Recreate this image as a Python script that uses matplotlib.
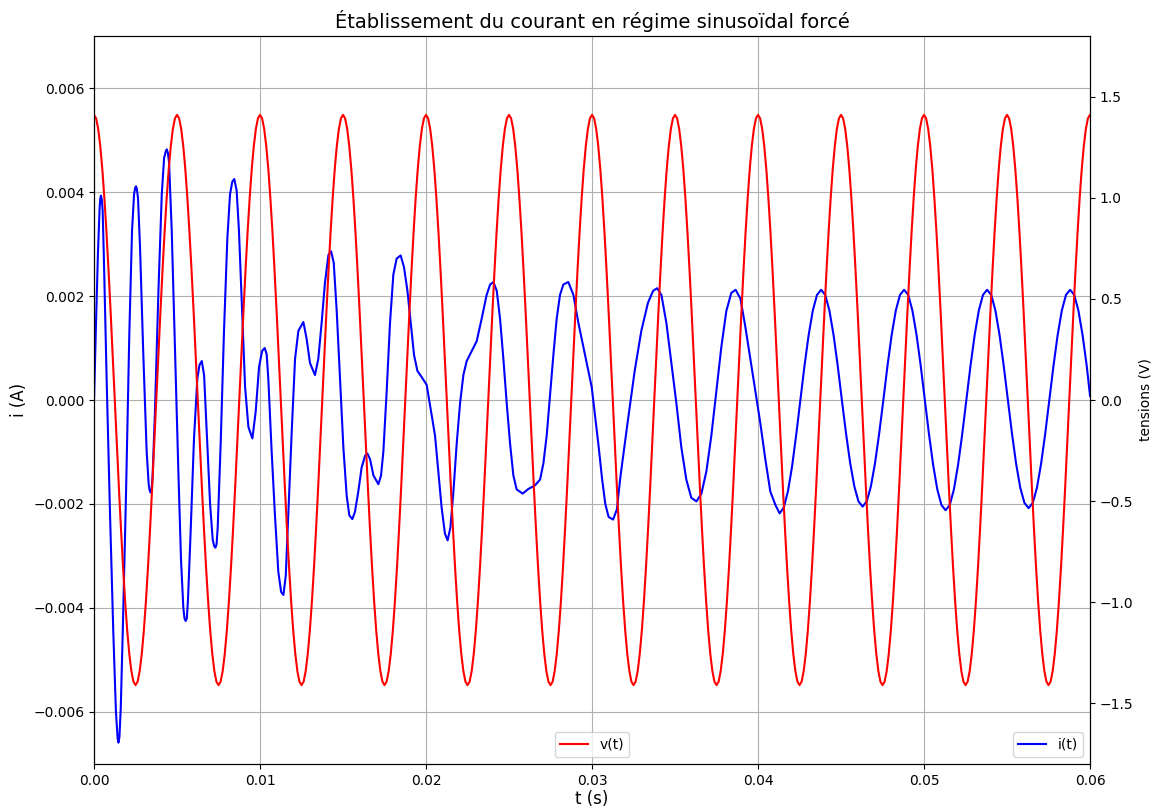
import numpy as np
import matplotlib
matplotlib.use("Agg")
import matplotlib.pyplot as plt

# ---- data ----
# voltage v(t): one period (0.005 s) sampled every 0.000125 s, repeated over the window
V_PERIOD_S = 0.005
V_CYCLE = [1.410, 1.393, 1.341, 1.256, 1.141, 0.997, 0.829, 0.640, 0.436, 0.221,
           0.000, -0.221, -0.436, -0.640, -0.829, -0.997, -1.141, -1.256, -1.341, -1.393,
           -1.410, -1.393, -1.341, -1.256, -1.141, -0.997, -0.829, -0.640, -0.436, -0.221,
           0.000, 0.221, 0.436, 0.640, 0.829, 0.997, 1.141, 1.256, 1.341, 1.393]
N_PERIODS = 12

# current i(t): transient part (t in s, i in A)
TRANS_T = [0.0, 0.00012, 0.00024, 0.00034, 0.00038, 0.00042, 0.00047, 0.00052, 0.00060, 0.00076,
           0.00096, 0.00116, 0.00132, 0.00142, 0.00147, 0.00153, 0.00161, 0.00173, 0.00193, 0.00213,
           0.00229, 0.00241, 0.00248, 0.00253, 0.00258, 0.00265, 0.00277, 0.00297, 0.00317, 0.00329,
           0.00335, 0.00341, 0.00347, 0.00353, 0.00367, 0.00388, 0.00408, 0.00422, 0.00431, 0.00438,
           0.00445, 0.00452, 0.00468, 0.00488, 0.00508, 0.00524, 0.00538, 0.00545, 0.00552, 0.00559,
           0.00566, 0.00582, 0.00602, 0.00622, 0.00635, 0.00649, 0.00663, 0.00679, 0.00699, 0.00715,
           0.00724, 0.00731, 0.00738, 0.00745, 0.00763, 0.00783, 0.00803, 0.00819, 0.00833, 0.00845,
           0.00859, 0.00873, 0.00890, 0.00910, 0.00930, 0.00954, 0.00974, 0.00994, 0.01012, 0.01028,
           0.01040, 0.01050, 0.01070, 0.01090, 0.01110, 0.01127, 0.01141, 0.01155, 0.01171, 0.01191,
           0.01211, 0.01231, 0.01261, 0.01281, 0.01301, 0.01331, 0.01351, 0.01371, 0.01391, 0.01412,
           0.01428, 0.01444, 0.01462, 0.01482, 0.01502, 0.01522, 0.01538, 0.01556, 0.01572, 0.01592,
           0.01612, 0.01633, 0.01647, 0.01663, 0.01683, 0.01713, 0.01729, 0.01743, 0.01763, 0.01783,
           0.01803, 0.01823, 0.01847, 0.01867, 0.01888, 0.01908, 0.01928, 0.01948, 0.01974, 0.02004,
           0.02030, 0.02054, 0.02074, 0.02094, 0.02114, 0.02130, 0.02147, 0.02165, 0.02185, 0.02205,
           0.02225, 0.02245, 0.02275, 0.02305, 0.02335, 0.02365, 0.02386, 0.02406, 0.02426, 0.02446,
           0.02466, 0.02486, 0.02506, 0.02526, 0.02546, 0.02582, 0.02617, 0.02657, 0.02687, 0.02707,
           0.02727, 0.02747, 0.02767, 0.02787, 0.02807, 0.02827, 0.02857, 0.02888, 0.02918, 0.02958,
           0.02998, 0.03040, 0.03060, 0.03080, 0.03100, 0.03127, 0.03150, 0.03170, 0.03217, 0.03257,
           0.03297, 0.03337, 0.03368, 0.03392, 0.03418, 0.03448, 0.03478, 0.03508, 0.03538, 0.03568,
           0.03598, 0.03629, 0.03659, 0.03689, 0.03719, 0.03749, 0.03779, 0.03809, 0.03839, 0.03865,
           0.03894, 0.03924, 0.03954, 0.03984, 0.04014, 0.04044, 0.04074]
TRANS_I = [0.0, 0.00148, 0.00287, 0.00372, 0.00388, 0.00393, 0.00385, 0.00364, 0.00264, 0.00040,
           -0.00215, -0.00446, -0.00600, -0.00650, -0.00659, -0.00648, -0.00593, -0.00446, -0.00176, 0.00133,
           0.00326, 0.00395, 0.00408, 0.00411, 0.00406, 0.00388, 0.00295, 0.00086, -0.00099, -0.00161,
           -0.00174, -0.00178, -0.00172, -0.00145, -0.00022, 0.00210, 0.00395, 0.00465, 0.00477, 0.00482,
           0.00475, 0.00457, 0.00326, 0.00094, -0.00137, -0.00307, -0.00400, -0.00420, -0.00425, -0.00420,
           -0.00384, -0.00253, -0.00076, 0.00040, 0.00067, 0.00075, 0.00048, -0.00060, -0.00199, -0.00269,
           -0.00281, -0.00284, -0.00278, -0.00245, -0.00083, 0.00133, 0.00310, 0.00395, 0.00420, 0.00425,
           0.00403, 0.00326, 0.00187, 0.00025, -0.00052, -0.00074, -0.00022, 0.00063, 0.00094, 0.00100,
           0.00088, 0.00040, -0.00099, -0.00222, -0.00330, -0.00369, -0.00375, -0.00338, -0.00215, -0.00060,
           0.00079, 0.00133, 0.00150, 0.00117, 0.00071, 0.00048, 0.00079, 0.00148, 0.00225, 0.00279,
           0.00286, 0.00264, 0.00171, 0.00040, -0.00091, -0.00184, -0.00222, -0.00229, -0.00215, -0.00176,
           -0.00130, -0.00107, -0.00103, -0.00114, -0.00145, -0.00162, -0.00145, -0.00099, 0.00017, 0.00148,
           0.00241, 0.00272, 0.00278, 0.00256, 0.00210, 0.00148, 0.00086, 0.00056, 0.00044, 0.00029,
           -0.00022, -0.00068, -0.00137, -0.00207, -0.00257, -0.00270, -0.00245, -0.00176, -0.00083, -0.00006,
           0.00048, 0.00075, 0.00094, 0.00113, 0.00156, 0.00202, 0.00222, 0.00227, 0.00210, 0.00156,
           0.00079, -0.00006, -0.00083, -0.00145, -0.00172, -0.00180, -0.00171, -0.00164, -0.00153, -0.00122,
           -0.00068, 0.00009, 0.00086, 0.00156, 0.00202, 0.00222, 0.00227, 0.00202, 0.00148, 0.00086,
           0.00025, -0.00090, -0.00150, -0.00200, -0.00225, -0.00230, -0.00210, -0.00150, -0.00037, 0.00056,
           0.00133, 0.00187, 0.00210, 0.00215, 0.00202, 0.00148, 0.00071, -0.00006, -0.00091, -0.00153,
           -0.00188, -0.00195, -0.00180, -0.00137, -0.00068, 0.00017, 0.00102, 0.00171, 0.00206, 0.00212,
           0.00195, 0.00140, 0.00079, 0.00017, -0.00045, -0.00114, -0.00176]

# current i(t): steady-state part, sampled every 0.00025 s from 0.04105 s
STEADY_T0 = 0.04105
STEADY_DT = 0.00025
STEADY_I = [-0.00202,
            -0.00218, -0.00207, -0.00176, -0.00128, -0.00067, 0.0, 0.00066, 0.00125, 0.00172, 0.00202,
            0.00212, 0.00202, 0.00172, 0.00125, 0.00066, 0.0, -0.00064, -0.00121, -0.00166, -0.00195,
            -0.00205, -0.00195, -0.00166, -0.00121, -0.00064, 0.0, 0.00066, 0.00125, 0.00172, 0.00202,
            0.00212, 0.00202, 0.00172, 0.00125, 0.00066, 0.0, -0.00066, -0.00125, -0.00172, -0.00202,
            -0.00212, -0.00202, -0.00172, -0.00125, -0.00066, 0.0, 0.00066, 0.00125, 0.00172, 0.00202,
            0.00212, 0.00202, 0.00172, 0.00125, 0.00066, 0.0, -0.00065, -0.00123, -0.00169, -0.00198,
            -0.00208, -0.00198, -0.00169, -0.00123, -0.00065, 0.0, 0.00066, 0.00125, 0.00172, 0.00202,
            0.00212, 0.00202, 0.00172, 0.00125, 0.00066]
END_T = [0.06]
END_I = [0.00008]

TITLE = "Établissement du courant en régime sinusoïdal forcé"

# ---- build series ----
v_vals = np.concatenate([np.tile(V_CYCLE, N_PERIODS), [V_CYCLE[0]]])
v_t = np.linspace(0, N_PERIODS * V_PERIOD_S, len(v_vals))

steady_t = STEADY_T0 + STEADY_DT * np.arange(len(STEADY_I))
i_t = np.concatenate([TRANS_T, steady_t, END_T])
i_vals = np.concatenate([TRANS_I, STEADY_I, END_I])

# ---- figure ----
fig = plt.figure(figsize=(11.58, 8.08), dpi=100)
ax1 = fig.add_axes([0.0812, 0.0545, 0.8601, 0.9009])
ax1.plot(i_t, i_vals, color="blue", lw=1.5, label="i(t)")
ax1.set_xlim(0, 0.06)
ax1.set_ylim(-0.007, 0.007)
ax1.set_xlabel("t (s)", fontsize=12, labelpad=2)
ax1.set_ylabel("i (A)", fontsize=12)
ax1.grid(True, color="#b0b0b0", lw=0.8)
ax1.legend(loc="lower right")

ax2 = ax1.twinx()
ax2.plot(v_t, v_vals, color="red", lw=1.5, label="v(t)")
ax2.set_ylim(-1.8, 1.8)
ax2.set_ylabel("tensions (V)", fontsize=10)
ax2.legend(loc="lower center")

ax1.set_title(TITLE, fontsize=14)

fig.savefig("out.png", dpi=100)
